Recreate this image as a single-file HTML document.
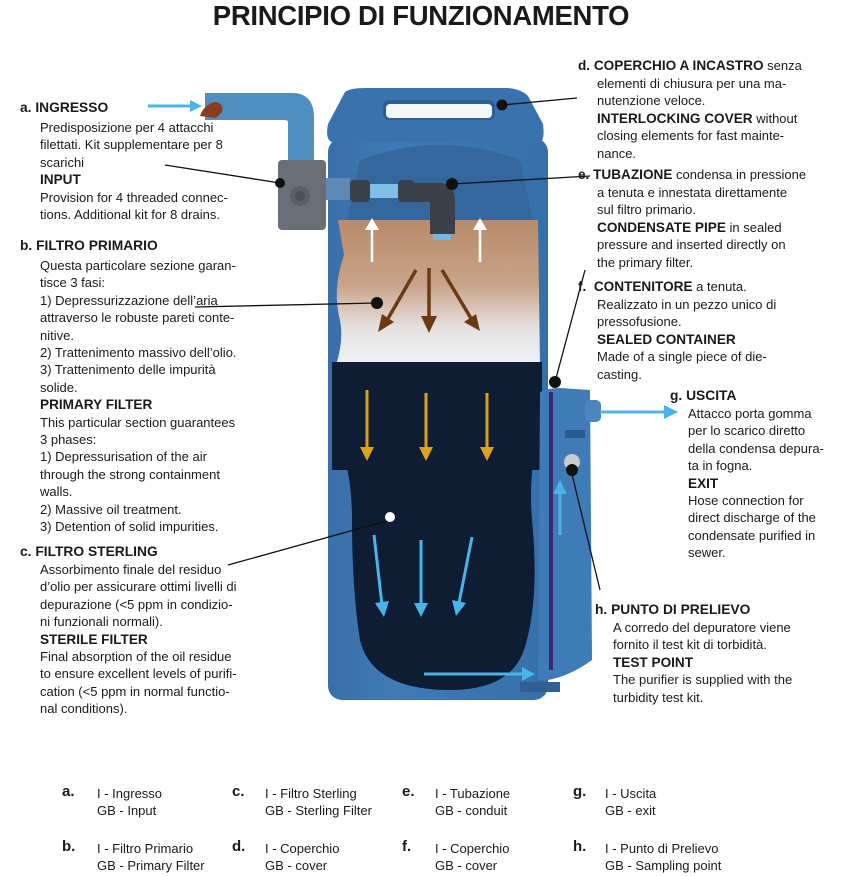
<!DOCTYPE html>
<html><head><meta charset="utf-8">
<style>
body{margin:0;background:#fff;}
#c{position:relative;width:842px;height:876px;overflow:hidden;font-family:"Liberation Sans",sans-serif;color:#1a1a1a;}
.t{position:absolute;font-size:13px;line-height:17.4px;white-space:nowrap;}
.t b{font-weight:bold;font-size:13.6px;}
.h{position:absolute;font-weight:bold;font-size:13.8px;white-space:nowrap;}
.title{position:absolute;left:0;width:842px;top:0px;text-align:center;font-weight:bold;font-size:27.5px;letter-spacing:-0.3px;}
.lg{position:absolute;font-family:"Liberation Sans Narrow","Liberation Sans",sans-serif;font-size:13px;line-height:17px;white-space:nowrap;}
.ll{position:absolute;font-weight:bold;font-size:15px;}
svg{position:absolute;left:0;top:0;}
</style></head><body><div id="c">
<svg width="842" height="876" viewBox="0 0 842 876">
<defs>
<linearGradient id="fl" x1="0" y1="0" x2="0" y2="1">
<stop offset="0" stop-color="#b88a68"/><stop offset="0.45" stop-color="#c9a48a"/><stop offset="0.75" stop-color="#e6e2e2"/><stop offset="1" stop-color="#eef1f4"/></linearGradient>
<linearGradient id="bd" x1="0" y1="0" x2="1" y2="0">
<stop offset="0" stop-color="#3a6fa8"/><stop offset="0.3" stop-color="#3f7ab6"/><stop offset="1" stop-color="#3670aa"/></linearGradient>
</defs>
<!-- inlet pipe -->
<path d="M205 93 H292 Q314 93 314 118 V162 H288 V122 Q288 120 284 120 H205 Z" fill="#4f8fc0"/>
<path d="M200 116 Q204 104 216 102 Q224 104 222 112 L216 118 Z" fill="#8a3c1e"/>
<line x1="148" y1="106" x2="194" y2="106" stroke="#4ab4e8" stroke-width="3"/>
<polygon points="202,106 190,100 190,112" fill="#4ab4e8"/>
<!-- main body -->
<rect x="328" y="138" width="220" height="562" rx="14" fill="url(#bd)"/>
<path d="M345 92 Q350 88 365 88 L505 88 Q520 88 528 96 L543 124 Q545 140 540 142 L332 142 Q325 140 328 124 Z" fill="#3a72ad"/>
<rect x="383" y="100" width="112" height="20" rx="6" fill="#2c5f96"/>
<rect x="386" y="104" width="106" height="14" rx="4" fill="#f4f6f8"/>
<!-- inner darker circle area -->
<path d="M360 160 Q440 130 520 160 L535 230 L345 230 Z" fill="#34679c"/>
<!-- filter brown/white -->
<path d="M338 220 L538 220 L540 365 L336 365 Q344 340 340 320 Q332 290 344 255 Z" fill="url(#fl)"/>
<!-- dark section -->
<path d="M332 362 L542 362 L540 430 Q528 470 532 520 Q540 600 524 650 Q510 690 450 690 Q372 690 360 640 Q352 590 352 520 Q352 470 336 430 Z" fill="#0e1c34"/>
<path d="M332 362 L542 362 L542 470 L332 470 Z" fill="#0e1c34"/>
<!-- side container -->
<path d="M540 392 Q548 388 560 388 L590 390 L592 660 Q570 676 548 680 L538 680 Z" fill="#3f7bb6"/>
<rect x="585" y="400" width="16" height="22" rx="5" fill="#4a86bd"/>
<line x1="551" y1="392" x2="551" y2="670" stroke="#3a2a6a" stroke-width="4"/>
<rect x="565" y="430" width="20" height="8" fill="#2a5d8e"/>
<circle cx="572" cy="462" r="8" fill="#c8ccd2"/>
<rect x="520" y="682" width="40" height="10" fill="#2f5f93"/>
<!-- inlet box -->
<rect x="278" y="160" width="48" height="70" rx="4" fill="#6a6e76"/>
<circle cx="300" cy="196" r="10" fill="#5a5e66"/><circle cx="300" cy="196" r="5" fill="#4c5058"/>
<rect x="326" y="178" width="24" height="22" fill="#5e89b4"/>
<!-- fitting -->
<rect x="350" y="180" width="20" height="22" rx="4" fill="#3c4048"/>
<rect x="370" y="184" width="30" height="14" fill="#7fc0ea"/>
<rect x="398" y="180" width="16" height="22" rx="4" fill="#3c4048"/>
<path d="M412 183 L442 183 Q455 186 455 200 L455 234 L430 234 L430 202 L412 202 Z" fill="#3c4048"/>
<rect x="433" y="234" width="18" height="6" fill="#6fb8e6"/>
<!-- white arrows -->
<g stroke="#fff" stroke-width="2.5" fill="#fff">
<line x1="372" y1="225" x2="372" y2="262"/><polygon points="365,230 379,230 372,218" stroke="none"/>
<line x1="480" y1="225" x2="480" y2="262"/><polygon points="473,230 487,230 480,218" stroke="none"/>
</g>
<!-- brown arrows -->
<g stroke="#6b3a12" stroke-width="3.5" fill="#6b3a12">
<line x1="416" y1="270" x2="386" y2="322"/><polygon points="378,332 382,314 394,322" stroke="none"/>
<line x1="429" y1="268" x2="429" y2="320"/><polygon points="421,316 437,316 429,333" stroke="none"/>
<line x1="442" y1="270" x2="472" y2="320"/><polygon points="480,331 464,322 476,314" stroke="none"/>
</g>
<!-- orange arrows -->
<g stroke="#dca21a" stroke-width="3" fill="#dca21a">
<line x1="367" y1="390" x2="367" y2="450"/><polygon points="360,447 374,447 367,461" stroke="none"/>
<line x1="426" y1="393" x2="426" y2="450"/><polygon points="419,447 433,447 426,461" stroke="none"/>
<line x1="487" y1="393" x2="487" y2="450"/><polygon points="480,447 494,447 487,461" stroke="none"/>
</g>
<!-- light blue arrows -->
<g stroke="#4ab4e8" stroke-width="3" fill="#4ab4e8">
<line x1="374" y1="535" x2="382" y2="605"/><polygon points="375,603 389,601 384,617" stroke="none"/>
<line x1="421" y1="540" x2="421" y2="605"/><polygon points="414,603 428,603 421,617" stroke="none"/>
<line x1="472" y1="537" x2="459" y2="603"/><polygon points="452,600 466,603 456,616" stroke="none"/>
<line x1="560" y1="535" x2="560" y2="490"/><polygon points="553,494 567,494 560,480" stroke="none"/>
<line x1="424" y1="674" x2="525" y2="674"/><polygon points="522,667 522,681 535,674" stroke="none"/>
<line x1="600" y1="412" x2="668" y2="412"/><polygon points="664,405 664,419 678,412" stroke="none"/>
</g>
<!-- leader lines -->
<g stroke="#111" stroke-width="1.3" fill="#111">
<line x1="165" y1="165" x2="280" y2="183"/><circle cx="280" cy="183" r="5" stroke="none"/>
<line x1="195" y1="307" x2="377" y2="303"/><circle cx="377" cy="303" r="6" stroke="none"/>
<line x1="577" y1="98" x2="502" y2="105"/><circle cx="502" cy="105" r="5.5" stroke="none"/>
<line x1="590" y1="176" x2="452" y2="184"/><circle cx="452" cy="184" r="6" stroke="none"/>
<line x1="585" y1="270" x2="555" y2="382"/><circle cx="555" cy="382" r="6" stroke="none"/>
<line x1="570" y1="466" x2="600" y2="590"/><circle cx="572" cy="470" r="6" stroke="none"/>
<line x1="228" y1="565" x2="390" y2="520"/>
</g>
<circle cx="390" cy="517" r="5" fill="#fff"/>
</svg>

<div class="title">PRINCIPIO DI FUNZIONAMENTO</div>

<div class="h" style="left:20px;top:100px">a. INGRESSO</div>
<div class="t" style="left:40px;top:119px">Predisposizione per 4 attacchi<br>filettati. Kit supplementare per 8<br>scarichi<br><b>INPUT</b><br>Provision for 4 threaded connec-<br>tions. Additional kit for 8 drains.</div>

<div class="h" style="left:20px;top:238px">b. FILTRO PRIMARIO</div>
<div class="t" style="left:40px;top:257px">Questa particolare sezione garan-<br>tisce 3 fasi:<br>1) Depressurizzazione dell’aria<br>attraverso le robuste pareti conte-<br>nitive.<br>2) Trattenimento massivo dell’olio.<br>3) Trattenimento delle impurità<br>solide.<br><b>PRIMARY FILTER</b><br>This particular section guarantees<br>3 phases:<br>1) Depressurisation of the air<br>through the strong containment<br>walls.<br>2) Massive oil treatment.<br>3) Detention of solid impurities.</div>

<div class="h" style="left:20px;top:544px">c. FILTRO STERLING</div>
<div class="t" style="left:40px;top:561px">Assorbimento finale del residuo<br>d’olio per assicurare ottimi livelli di<br>depurazione (&lt;5 ppm in condizio-<br>ni funzionali normali).<br><b>STERILE FILTER</b><br>Final absorption of the oil residue<br>to ensure excellent levels of purifi-<br>cation (&lt;5 ppm in normal functio-<br>nal conditions).</div>

<div class="t" style="left:578px;top:57px"><b>d. COPERCHIO A INCASTRO</b> senza</div>
<div class="t" style="left:597px;top:75px">elementi di chiusura per una ma-<br>nutenzione veloce.<br><b>INTERLOCKING COVER</b> without<br>closing elements for fast mainte-<br>nance.</div>

<div class="t" style="left:578px;top:166px"><b>e. TUBAZIONE</b> condensa in pressione</div>
<div class="t" style="left:597px;top:184px">a tenuta e innestata direttamente<br>sul filtro primario.<br><b>CONDENSATE PIPE</b> in sealed<br>pressure and inserted directly on<br>the primary filter.</div>

<div class="t" style="left:578px;top:278px"><b>f.&nbsp; CONTENITORE</b> a tenuta.</div>
<div class="t" style="left:597px;top:296px">Realizzato in un pezzo unico di<br>pressofusione.<br><b>SEALED CONTAINER</b><br>Made of a single piece of die-<br>casting.</div>

<div class="h" style="left:670px;top:388px">g. USCITA</div>
<div class="t" style="left:688px;top:405px">Attacco porta gomma<br>per lo scarico diretto<br>della condensa depura-<br>ta in fogna.<br><b>EXIT</b><br>Hose connection for<br>direct discharge of the<br>condensate purified in<br>sewer.</div>

<div class="h" style="left:595px;top:602px">h. PUNTO DI PRELIEVO</div>
<div class="t" style="left:613px;top:619px">A corredo del depuratore viene<br>fornito il test kit di torbidità.<br><b>TEST POINT</b><br>The purifier is supplied with the<br>turbidity test kit.</div>

<div class="ll" style="left:62px;top:783px">a.</div><div class="lg" style="left:97px;top:785px">I - Ingresso<br>GB - Input</div>
<div class="ll" style="left:232px;top:783px">c.</div><div class="lg" style="left:265px;top:785px">I - Filtro Sterling<br>GB - Sterling Filter</div>
<div class="ll" style="left:402px;top:783px">e.</div><div class="lg" style="left:435px;top:785px">I - Tubazione<br>GB - conduit</div>
<div class="ll" style="left:573px;top:783px">g.</div><div class="lg" style="left:605px;top:785px">I - Uscita<br>GB - exit</div>
<div class="ll" style="left:62px;top:838px">b.</div><div class="lg" style="left:97px;top:840px">I - Filtro Primario<br>GB - Primary Filter</div>
<div class="ll" style="left:232px;top:838px">d.</div><div class="lg" style="left:265px;top:840px">I - Coperchio<br>GB - cover</div>
<div class="ll" style="left:402px;top:838px">f.</div><div class="lg" style="left:435px;top:840px">I - Coperchio<br>GB - cover</div>
<div class="ll" style="left:573px;top:838px">h.</div><div class="lg" style="left:605px;top:840px">I - Punto di Prelievo<br>GB - Sampling point</div>
</div></body></html>
